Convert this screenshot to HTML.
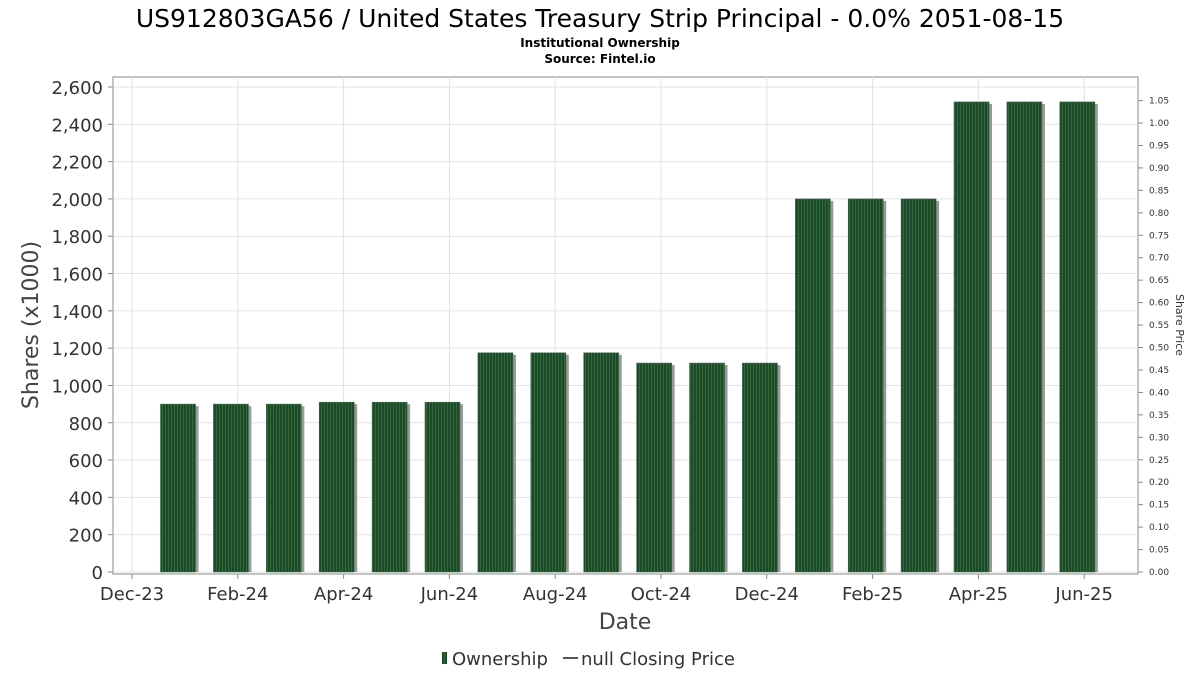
<!DOCTYPE html>
<html><head><meta charset="utf-8"><style>
body{margin:0;background:#fff;font-family:"DejaVu Sans","Liberation Sans",sans-serif;}
svg text{font-family:"DejaVu Sans","Liberation Sans",sans-serif;}
</style></head><body>
<svg id="c" width="1200" height="675" xmlns="http://www.w3.org/2000/svg">
<defs>
<pattern id="stripe" width="3" height="4" patternUnits="userSpaceOnUse">
<rect width="3" height="4" fill="#1f4a2a"/><rect width="1" height="4" fill="#2f6a3c"/>
</pattern>
</defs>
<text x="600" y="27" text-anchor="middle" font-size="25" fill="#000">US912803GA56 / United States Treasury Strip Principal - 0.0% 2051-08-15</text>
<text x="600" y="47" text-anchor="middle" font-size="12" font-weight="bold">Institutional Ownership</text>
<text x="600" y="63" text-anchor="middle" font-size="12" font-weight="bold">Source: Fintel.io</text>
<rect x="113" y="77" width="1025" height="497" fill="#fff" stroke="#888"/>
<g id="grid"></g><g id="bars"></g><g id="axes"></g>
<text transform="translate(38,325) rotate(-90)" text-anchor="middle" font-size="22" fill="#444">Shares (x1000)</text>
<text transform="translate(1176,325) rotate(90)" text-anchor="middle" font-size="11" fill="#333">Share Price</text>
<text x="625" y="629" text-anchor="middle" font-size="22" fill="#444">Date</text>
<g>
<rect x="442" y="652" width="5" height="12" fill="url(#stripe)"/>
<text x="452" y="665" font-size="18" fill="#333">Ownership</text>
<line x1="563" y1="658" x2="578" y2="658" stroke="#555" stroke-width="2"/>
<text x="581" y="665" font-size="18" fill="#333">null Closing Price</text>
</g>
</svg>
<script>
const categories=["Jan-24","Feb-24","Mar-24","Apr-24","May-24","Jun-24","Jul-24","Aug-24","Sep-24","Oct-24","Nov-24","Dec-24","Jan-25","Feb-25","Mar-25","Apr-25","May-25","Jun-25"];
const ownership=[900,900,900,910,910,910,1175,1175,1175,1120,1120,1120,2000,2000,2000,2520,2520,2520];
const yTicks=[0,200,400,600,800,1000,1200,1400,1600,1800,2000,2200,2400,2600];
const y2Ticks=["0.00","0.05","0.10","0.15","0.20","0.25","0.30","0.35","0.40","0.45","0.50","0.55","0.60","0.65","0.70","0.75","0.80","0.85","0.90","0.95","1.00","1.05"];
const xTickLabels=["Dec-23","Feb-24","Apr-24","Jun-24","Aug-24","Oct-24","Dec-24","Feb-25","Apr-25","Jun-25"];
const NS="http://www.w3.org/2000/svg";
const y=v=>572-v*485/2600;
const y2=v=>572-v*471.4/1.05;
const xm=m=>132+m*52.9;
const xb=i=>xm(i+0.87);
function mk(t,a,p){const e=document.createElementNS(NS,t);for(const k in a)e.setAttribute(k,a[k]);p.appendChild(e);return e;}
const grid=document.getElementById('grid'),bars=document.getElementById('bars'),axes=document.getElementById('axes');
yTicks.forEach(v=>{
 const l=mk('line',{x1:113,x2:1138,y1:y(v),y2:y(v),stroke:'#e2e2e2'},grid);
 
 
 const t=mk('text',{x:103,y:y(v)+7,'text-anchor':'end','font-size':18,fill:'#333'},axes);
 t.textContent=v.toLocaleString('en-US');
 
 
 mk('line',{x1:108,x2:113,y1:y(v),y2:y(v),stroke:'#888'},axes);
});
y2Ticks.forEach(s=>{
 const v=parseFloat(s);
 mk('line',{x1:1138,x2:1143,y1:y2(v),y2:y2(v),stroke:'#888'},axes);
 const t=mk('text',{x:1149,y:y2(v)+3,'font-size':9,fill:'#333'},axes);
 t.textContent=s;
 
 
});
xTickLabels.forEach((s,i)=>{
 const x=xm(i*2);
 const l=mk('line',{x1:x,x2:x,y1:77,y2:574,stroke:'#e2e2e2'},grid);
 
 
 mk('line',{x1:x,x2:x,y1:574,y2:579,stroke:'#888'},axes);
 const t=mk('text',{x:x,y:600,'text-anchor':'middle','font-size':18,fill:'#333'},axes);
 t.textContent=s;
 
 
});
ownership.forEach((v,i)=>{
 const cx=xb(i),w=35,top=y(v);
 const sh=mk('rect',{x:cx-w/2+3,y:top+2,width:w,height:572-top-2,fill:'#999'},bars);
 
 
 const b=mk('rect',{x:cx-w/2,y:top,width:w,height:572-top,fill:'url(#stripe)',stroke:'#3d6b47','stroke-width':0.6},bars);
 
 
});
</script>
</body></html>
